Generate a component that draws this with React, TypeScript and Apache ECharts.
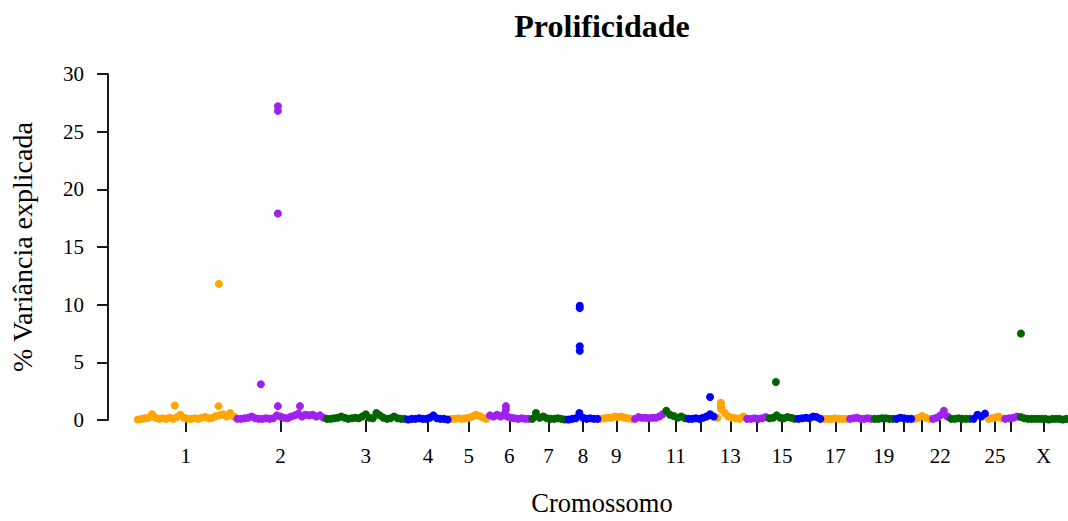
import React, { useEffect, useRef } from "react";
import * as echarts from "echarts";

const chromNames = ["1","2","3","4","5","6","7","8","9","10","11","12","13","14","15","16","17","18","19","20","21","22","23","24","25","26","X"];
const chromLengths = [275,248,224,119,107,117,100,90,94,86,62,79,82,62,80,71,72,68,60,51,50,50,62,42,45,44,135];
const labeledChroms = ["1","2","3","4","5","6","7","8","9","11","13","15","17","19","22","25","X"];
const chromColors = ["#FFA500", "#A020F0", "#006400", "#0000FF"];
const yTicks = [0, 5, 10, 15, 20, 25, 30];

// background markers (evenly spread along each chromosome), % variance explained
const baseValues: number[][] = [
  [0.05,0.1,0.15,0.2,0.5,0.2,0.1,0.15,0.1,0.2,0.1,0.25,0.45,0.2,0.1,0.1,0.15,0.1,0.2,0.25,0.15,0.2,0.35,0.4,0.5,0.3,0.6,0.3],
  [0.1,0.1,0.15,0.2,0.3,0.15,0.1,0.1,0.15,0.1,0.15,0.4,0.3,0.2,0.15,0.3,0.4,0.55,0.3,0.45,0.4,0.45,0.3,0.4,0.2],
  [0.1,0.1,0.15,0.2,0.3,0.2,0.1,0.15,0.2,0.15,0.3,0.5,0.2,0.15,0.6,0.4,0.2,0.1,0.15,0.3,0.15,0.1,0.1],
  [0.05,0.1,0.1,0.15,0.1,0.1,0.2,0.4,0.15,0.1,0.1,0.05],
  [0.1,0.1,0.15,0.1,0.15,0.2,0.3,0.45,0.35,0.2,0.1],
  [0.4,0.3,0.45,0.3,0.5,0.3,0.2,0.15,0.1,0.15,0.1,0.1],
  [0.1,0.6,0.2,0.3,0.15,0.1,0.1,0.15,0.1,0.05],
  [0.05,0.1,0.15,0.6,0.2,0.1,0.15,0.1,0.1],
  [0.1,0.15,0.2,0.2,0.3,0.25,0.3,0.2,0.15,0.1],
  [0.1,0.25,0.2,0.2,0.15,0.2,0.2,0.3,0.5],
  [0.8,0.45,0.35,0.2,0.3,0.15],
  [0.1,0.1,0.15,0.1,0.2,0.3,0.5,0.3],
  [0.2,1.0,0.6,0.3,0.2,0.15,0.1,0.3],
  [0.1,0.1,0.15,0.1,0.15,0.25],
  [0.15,0.2,0.4,0.2,0.15,0.25,0.2,0.1],
  [0.1,0.15,0.2,0.15,0.3,0.25,0.1],
  [0.1,0.1,0.1,0.15,0.1,0.1,0.1],
  [0.1,0.15,0.2,0.1,0.1,0.15,0.1],
  [0.1,0.1,0.15,0.15,0.1,0.1],
  [0.1,0.2,0.15,0.1,0.1],
  [0.1,0.2,0.35,0.2,0.1],
  [0.1,0.2,0.4,0.8,0.3],
  [0.1,0.1,0.15,0.1,0.1,0.1],
  [0.1,0.45,0.3,0.55],
  [0.1,0.15,0.2,0.3,0.15],
  [0.1,0.15,0.2,0.3],
  [0.25,0.15,0.1,0.1,0.1,0.1,0.1,0.1,0.05,0.1,0.1,0.1,0.05,0.1],
];

// notable markers: [chromosome index, position within chromosome (Mb), % variance]
const peakPoints: [number, number, number][] = [
  [0, 107, 1.25], [0, 228, 1.2], [0, 229, 11.8],
  [1, 70, 3.1], [1, 117, 27.2], [1, 117, 26.8], [1, 117, 17.9], [1, 117, 1.2], [1, 178, 1.2],
  [5, 49, 1.2], [5, 49, 0.9],
  [7, 36, 9.9], [7, 36, 9.7], [7, 36, 6.4], [7, 36, 6.0],
  [11, 64, 2.0],
  [12, 15, 1.5], [12, 15, 1.3], [12, 16, 1.1], [12, 17, 0.9],
  [14, 23, 3.3],
  [26, 5, 7.5],
];

export default function App() {
  const ref = useRef<HTMLDivElement>(null);
  useEffect(() => {
    document.body.style.margin = "0";
    if (!ref.current) return;
    const chart = echarts.init(ref.current, undefined, { renderer: "svg" });

    const offsets: number[] = [];
    let acc = 0;
    chromLengths.forEach((l) => { offsets.push(acc); acc += l; });
    const total = acc;
    const mids = chromLengths.map((l, i) => offsets[i] + l / 2);
    const labelMids = mids.filter((_, i) => labeledChroms.includes(chromNames[i]));
    // leave a 28px gap between the y axis line and the first marker
    const xMin = -(total * 28) / 932;

    const groups: number[][][] = [[], [], [], []];
    baseValues.forEach((vals, i) => {
      const n = vals.length;
      vals.forEach((v, j) => {
        groups[i % 4].push([offsets[i] + ((j + 0.5) * chromLengths[i]) / n, v]);
      });
    });
    peakPoints.forEach(([ci, pos, v]) => {
      groups[ci % 4].push([offsets[ci] + pos, v]);
    });

    const nameFor = (val: number) => {
      let best = 0, bd = Infinity;
      mids.forEach((m, i) => { const d = Math.abs(m - val); if (d < bd) { bd = d; best = i; } });
      return chromNames[best];
    };

    const font = "Liberation Serif";
    chart.setOption({
      animation: false,
      graphic: [{
        type: "text", x: 602, y: 25.5,
        style: { text: "Prolificidade", align: "center", verticalAlign: "middle", fontSize: 32, fontWeight: "bold", fontFamily: font, fill: "#000" },
      }],
      grid: { left: 108, right: 0, top: 74, bottom: 99 },
      xAxis: {
        type: "value", min: xMin, max: total,
        name: "Cromossomo", nameLocation: "middle", nameGap: 69,
        nameTextStyle: { fontSize: 26.5, fontFamily: font, color: "#000", padding: [0, 0, 0, 28] },
        axisLine: { show: false, onZero: false },
        splitLine: { show: false },
        axisTick: { show: true, customValues: mids, length: 12, lineStyle: { color: "#000", width: 1.8 } },
        axisLabel: { customValues: labelMids, formatter: (v: number) => nameFor(v), fontSize: 21, fontFamily: font, color: "#000", margin: 25 },
      },
      yAxis: {
        type: "value", min: 0, max: 30, interval: 5,
        name: "% Variância explicada", nameLocation: "middle", nameGap: 72, nameRotate: 90,
        nameTextStyle: { fontSize: 28, fontFamily: font, color: "#000" },
        axisLine: { show: true, onZero: false, lineStyle: { color: "#000", width: 1.8 } },
        axisTick: { show: true, length: 11, lineStyle: { color: "#000", width: 1.8 } },
        splitLine: { show: false },
        axisLabel: { fontSize: 21, fontFamily: font, color: "#000", margin: 24, customValues: yTicks },
      },
      series: groups.map((data, k) => ({
        type: "scatter", data, symbol: "circle", symbolSize: 8, clip: false,
        itemStyle: { color: chromColors[k], opacity: 1 },
      })),
    });
    return () => chart.dispose();
  }, []);
  return <div ref={ref} style={{ width: 1068, height: 521 }} />;
}
